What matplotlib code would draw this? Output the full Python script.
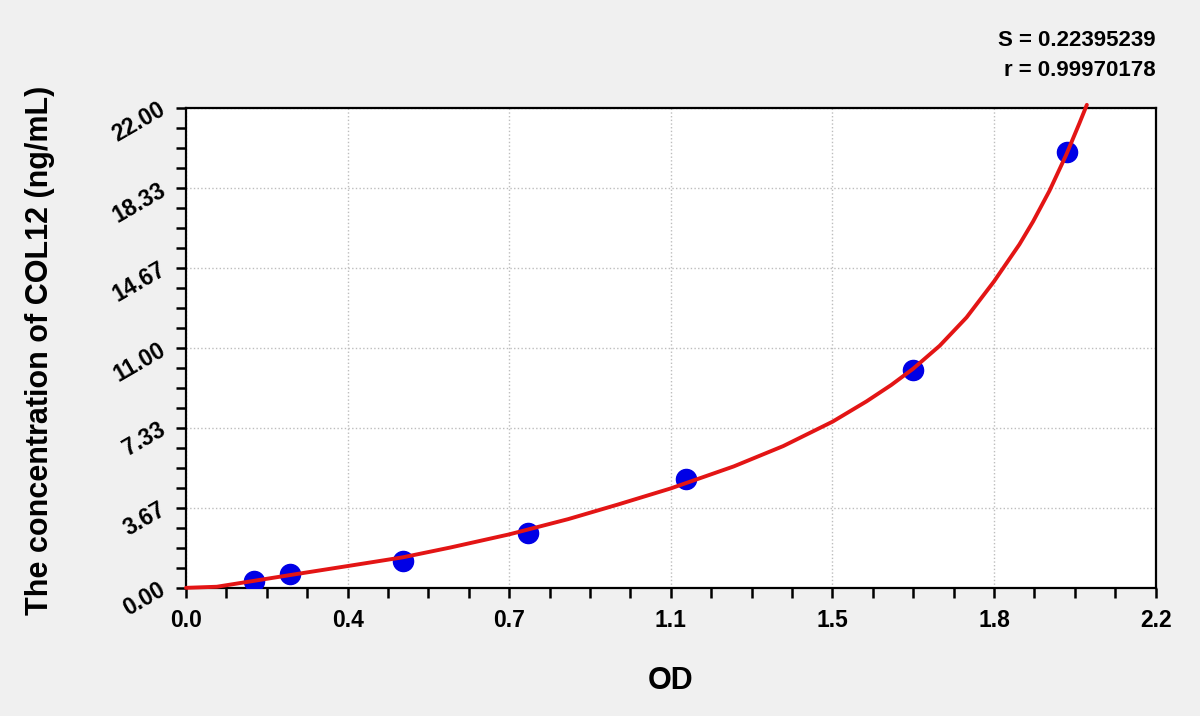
"""
Standard curve for COL12 ELISA: OD vs concentration.
"""

import matplotlib
matplotlib.use("Agg")
import matplotlib.pyplot as plt
from matplotlib.ticker import MultipleLocator, FixedLocator

# Standards (OD, concentration ng/mL)
od = [0.154, 0.235, 0.492, 0.775, 1.134, 1.649, 2.0]
conc = [0.31, 0.63, 1.25, 2.5, 5.0, 10.0, 20.0]

# Fitted curve
curve_od = [0.0, 0.07, 0.154, 0.25, 0.367, 0.492, 0.60, 0.733, 0.867, 0.98,
            1.10, 1.243, 1.355, 1.467, 1.544, 1.60, 1.650, 1.710, 1.771,
            1.8333, 1.891, 1.922, 1.959, 1.997, 2.027, 2.044]
curve_conc = [0.0, 0.05, 0.32, 0.63, 1.0, 1.40, 1.85, 2.45, 3.15, 3.82,
              4.56, 5.57, 6.50, 7.62, 8.55, 9.3, 10.05, 11.1, 12.4,
              14.05, 15.75, 16.8, 18.2, 19.85, 21.3, 22.15]

x_ticks = [0.0, 2.2 / 6, 2.2 / 3, 1.1, 2.2 * 2 / 3, 2.2 * 5 / 6, 2.2]
x_labels = ['0.0', '0.4', '0.7', '1.1', '1.5', '1.8', '2.2']
y_ticks = [0.0, 22 / 6, 22 / 3, 11.0, 22 * 2 / 3, 22 * 5 / 6, 22.0]
y_labels = ['0.00', '3.67', '7.33', '11.00', '14.67', '18.33', '22.00']

stats = ['S = 0.22395239', 'r = 0.99970178']

plt.rcParams['font.family'] = ['Liberation Sans', 'DejaVu Sans']
plt.rcParams['font.weight'] = 'bold'

fig = plt.figure(figsize=(12, 7.16), dpi=100, facecolor='#f0f0f0')
ax = fig.add_axes([0.155, 0.179, 0.808, 0.670])
ax.set_facecolor('white')

ax.plot(od, conc, 'o', color='#0000e6', markersize=14.5, zorder=3)
ax.plot(curve_od, curve_conc, color='#e31515', linewidth=2.8, zorder=4,
        clip_on=False, solid_joinstyle='round', solid_capstyle='round')

ax.set_xlim(0, 2.2)
ax.set_ylim(0, 22)

ax.xaxis.set_major_locator(FixedLocator(x_ticks))
ax.xaxis.set_minor_locator(MultipleLocator(2.2 / 24))
ax.yaxis.set_major_locator(FixedLocator(y_ticks))
ax.yaxis.set_minor_locator(MultipleLocator(22 / 24))
ax.set_xticklabels(x_labels, fontsize=16.5, fontweight='bold')
ax.set_yticklabels(y_labels, fontsize=16.5, fontweight='bold', rotation=30,
                   ha='right', va='center', rotation_mode='anchor')

ax.tick_params(which='both', direction='out', length=7, width=1.8,
               color='black')
ax.tick_params(axis='x', which='major', pad=8)
ax.tick_params(axis='y', which='major', pad=9)

for sp in ax.spines.values():
    sp.set_linewidth(1.6)
    sp.set_color('black')

ax.grid(True, which='major', linestyle=':', color='#bdbdbd', linewidth=1.0)
ax.set_axisbelow(True)

ax.set_xlabel('OD', fontsize=22, fontweight='bold')
ax.set_ylabel('The concentration of COL12 (ng/mL)', fontsize=22,
              fontweight='bold')
ax.xaxis.set_label_coords(0.5, -0.162)
ax.yaxis.set_label_coords(-0.135, 0.494)

fig.text(0.963, 0.943, stats[0], ha='right', va='center', fontsize=16,
         fontweight='bold')
fig.text(0.963, 0.902, stats[1], ha='right', va='center', fontsize=16,
         fontweight='bold')

fig.savefig('out.png', dpi=100, facecolor=fig.get_facecolor())
